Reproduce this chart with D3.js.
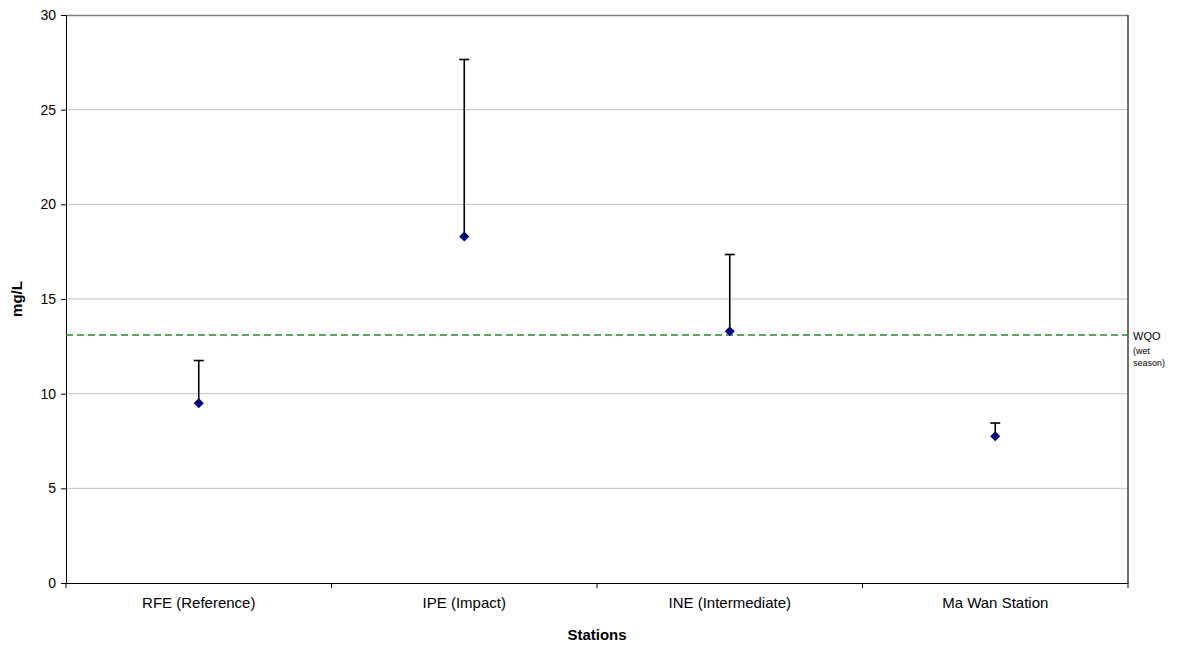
<!DOCTYPE html>
<html>
<head>
<meta charset="utf-8">
<script src="https://cdn.jsdelivr.net/npm/d3@7/dist/d3.min.js"></script>
<style>
  html, body { margin: 0; padding: 0; background: #fff; }
  svg { display: block; font-family: "Liberation Sans", Arial, sans-serif; }
</style>
</head>
<body>
<svg id="chart" width="1180" height="648"></svg>
<script>
const categories = ["RFE (Reference)", "IPE (Impact)", "INE (Intermediate)", "Ma Wan Station"];
const meanValues = [9.5, 18.3, 13.3, 7.75];
const upperValues = [11.75, 27.65, 17.35, 8.45];
const wqoValue = 13.1;
const yTicks = [0, 5, 10, 15, 20, 25, 30];

const svg = d3.select("#chart");
const m = { left: 66, right: 1128, top: 15, bottom: 583 };

const x = d3.scaleBand().domain(categories).range([m.left, m.right]).padding(0);
const y = d3.scaleLinear().domain([0, 30]).range([m.bottom, m.top]);

// gridlines
svg.append("g").selectAll("line").data(yTicks.filter(d => d > 0 && d < 30)).join("line")
  .attr("x1", m.left).attr("x2", m.right)
  .attr("y1", d => y(d)).attr("y2", d => y(d))
  .attr("stroke", "#c0c0c0").attr("stroke-width", 1);

// plot border top & right
svg.append("line").attr("x1", m.left).attr("x2", m.right).attr("y1", m.top + 0.5).attr("y2", m.top + 0.5)
  .attr("stroke", "#808080").attr("stroke-width", 1.5);
svg.append("line").attr("x1", m.right).attr("x2", m.right).attr("y1", m.top).attr("y2", m.bottom)
  .attr("stroke", "#404040").attr("stroke-width", 1.5);

// y axis
const yAxis = svg.append("g").attr("transform", `translate(${m.left},0)`)
  .call(d3.axisLeft(y).tickValues(yTicks).tickSize(5).tickPadding(5));
yAxis.select(".domain").attr("stroke", "#000");
yAxis.selectAll(".tick line").attr("stroke", "#000");
yAxis.selectAll("text").attr("font-size", 14).attr("fill", "#000")
  .attr("font-family", "Liberation Sans, Arial, sans-serif");

// x axis
const xAxis = svg.append("g").attr("transform", `translate(0,${m.bottom})`)
  .call(d3.axisBottom(x).tickSize(0).tickPadding(14));
xAxis.select(".domain").attr("stroke", "#000");
xAxis.selectAll("text").attr("font-size", 15).attr("fill", "#000")
  .attr("font-family", "Liberation Sans, Arial, sans-serif");
// band boundary ticks
const bounds = categories.map(c => x(c)).concat([x(categories[categories.length - 1]) + x.bandwidth()]);
svg.append("g").selectAll("line").data(bounds).join("line")
  .attr("x1", d => d).attr("x2", d => d)
  .attr("y1", m.bottom).attr("y2", m.bottom + 5)
  .attr("stroke", "#000");

// WQO line
svg.append("line")
  .attr("x1", m.left).attr("x2", m.right)
  .attr("y1", y(wqoValue)).attr("y2", y(wqoValue))
  .attr("stroke", "#1f8f1f").attr("stroke-width", 1.5)
  .attr("stroke-dasharray", "7,4");

const wqoLabel = svg.append("g").attr("font-family", "Liberation Sans, Arial, sans-serif").attr("fill", "#000");
wqoLabel.append("text").attr("x", m.right + 5).attr("y", y(wqoValue) + 5).attr("font-size", 11).text("WQO");
wqoLabel.append("text").attr("x", m.right + 5).attr("y", y(wqoValue) + 19).attr("font-size", 9).text("(wet");
wqoLabel.append("text").attr("x", m.right + 5).attr("y", y(wqoValue) + 31).attr("font-size", 9).text("season)");

// error bars
const data = categories.map((c, i) => ({ c, v: meanValues[i], u: upperValues[i] }));
const cx = d => x(d.c) + x.bandwidth() / 2;
const eb = svg.append("g");
eb.selectAll("line.v").data(data).join("line").attr("class", "v")
  .attr("x1", cx).attr("x2", cx)
  .attr("y1", d => y(d.v)).attr("y2", d => y(d.u))
  .attr("stroke", "#000").attr("stroke-width", 1.6);
eb.selectAll("line.cap").data(data).join("line").attr("class", "cap")
  .attr("x1", d => cx(d) - 5).attr("x2", d => cx(d) + 5)
  .attr("y1", d => y(d.u)).attr("y2", d => y(d.u))
  .attr("stroke", "#000").attr("stroke-width", 1.6);

// diamond markers
svg.append("g").selectAll("path").data(data).join("path")
  .attr("d", d3.symbol().type(d3.symbolDiamond2).size(64))
  .attr("transform", d => `translate(${cx(d)},${y(d.v)})`)
  .attr("fill", "#000080");

// axis titles
svg.append("text").attr("x", (m.left + m.right) / 2).attr("y", 640)
  .attr("text-anchor", "middle").attr("font-size", 15).attr("font-weight", "bold").text("Stations");
svg.append("text").attr("transform", `translate(22,${(m.top + m.bottom) / 2}) rotate(-90)`)
  .attr("text-anchor", "middle").attr("font-size", 15).attr("font-weight", "bold").text("mg/L");
</script>
</body>
</html>
